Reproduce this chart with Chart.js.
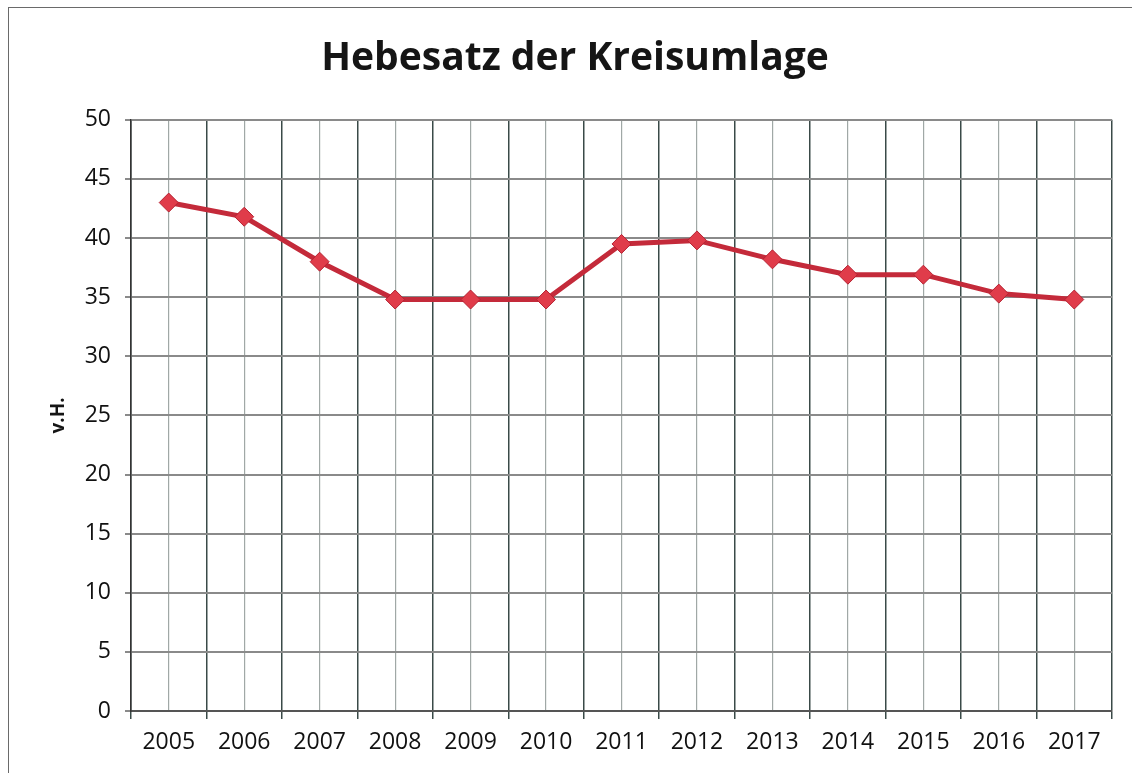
<!DOCTYPE html>
<html>
<head>
<meta charset="utf-8">
<script src="https://cdn.jsdelivr.net/npm/chart.js@4.4.1/dist/chart.umd.min.js"></script>
<style>
  html, body { margin: 0; padding: 0; background: #ffffff; }
  #wrap { position: relative; width: 1132px; height: 773px; overflow: hidden; }
  #frame { position: absolute; left: 8px; top: 7px; width: 1140px; height: 790px; border: 1.5px solid #6a6a6a; box-sizing: border-box; pointer-events: none; }
  canvas { position: absolute; left: 0; top: 0; }
</style>
</head>
<body>
<div id="wrap">
  <canvas id="c" width="1132" height="773"></canvas>
  <div id="frame"></div>
</div>
<script>
const chartTitle = 'Hebesatz der Kreisumlage';
const yAxisTitle = 'v.H.';
const years = ['2005','2006','2007','2008','2009','2010','2011','2012','2013','2014','2015','2016','2017'];
const hebesatz = [43.0, 41.8, 38.0, 34.8, 34.8, 34.8, 39.5, 39.8, 38.2, 36.9, 36.9, 35.3, 34.8];
const yMin = 0, yMax = 50, yStep = 5;

const FONT = "'Open Sans', 'DejaVu Sans', sans-serif";

new Chart(document.getElementById('c'), {
  type: 'line',
  data: {
    labels: years,
    datasets: [{
      label: 'Hebesatz',
      data: hebesatz,
      xAxisID: 'x',
      yAxisID: 'y',
      borderColor: '#c42a3a',
      borderWidth: 5,
      pointStyle: 'rectRot',
      pointRadius: 9.5,
      pointHoverRadius: 9.5,
      pointBackgroundColor: '#e03c4a',
      pointBorderColor: '#b52232',
      pointBorderWidth: 1,
      tension: 0,
      fill: false
    }]
  },
  options: {
    responsive: false,
    animation: false,
    devicePixelRatio: 1,
    layout: { padding: { left: 38, right: 20, top: 0, bottom: 0 } },
    plugins: {
      legend: { display: false },
      tooltip: { enabled: false },
      title: {
        display: true,
        text: chartTitle,
        color: '#151515',
        font: { family: FONT, size: 39, weight: 'bold', lineHeight: 1.2 },
        padding: { top: 35, bottom: 38 }
      }
    },
    scales: {
      x: {
        type: 'category',
        position: 'bottom',
        offset: true,
        grid: {
          offset: true,
          color: '#3a4a48',
          lineWidth: 1.5,
          drawTicks: true,
          tickLength: 8,
          tickColor: '#3a4a48'
        },
        border: { display: true, color: '#555555', width: 2 },
        ticks: {
          color: '#111111',
          font: { family: FONT, size: 23 },
          padding: 10,
          maxRotation: 0,
          autoSkip: false
        },
        afterFit: (s) => { s.height = 62; }
      },
      x2: {
        type: 'category',
        labels: years,
        position: 'bottom',
        offset: true,
        grid: {
          offset: false,
          color: '#a0a8a6',
          lineWidth: 1.2,
          drawTicks: false
        },
        border: { display: false },
        ticks: { display: false },
        afterFit: (s) => { s.height = 0; }
      },
      y: {
        min: yMin,
        max: yMax,
        ticks: {
          stepSize: yStep,
          color: '#111111',
          font: { family: FONT, size: 23 },
          padding: 14
        },
        grid: {
          color: '#8a8a8a',
          lineWidth: 2,
          drawTicks: true,
          tickLength: 6,
          tickColor: '#8a8a8a'
        },
        border: { display: true, color: '#333333', width: 1.5 },
        title: {
          display: true,
          text: yAxisTitle,
          color: '#151515',
          font: { family: FONT, size: 19, weight: 'bold' },
          padding: { top: 9, bottom: 4 }
        },
        afterFit: (s) => { s.width = 93; }
      }
    }
  }
});
</script>
</body>
</html>
